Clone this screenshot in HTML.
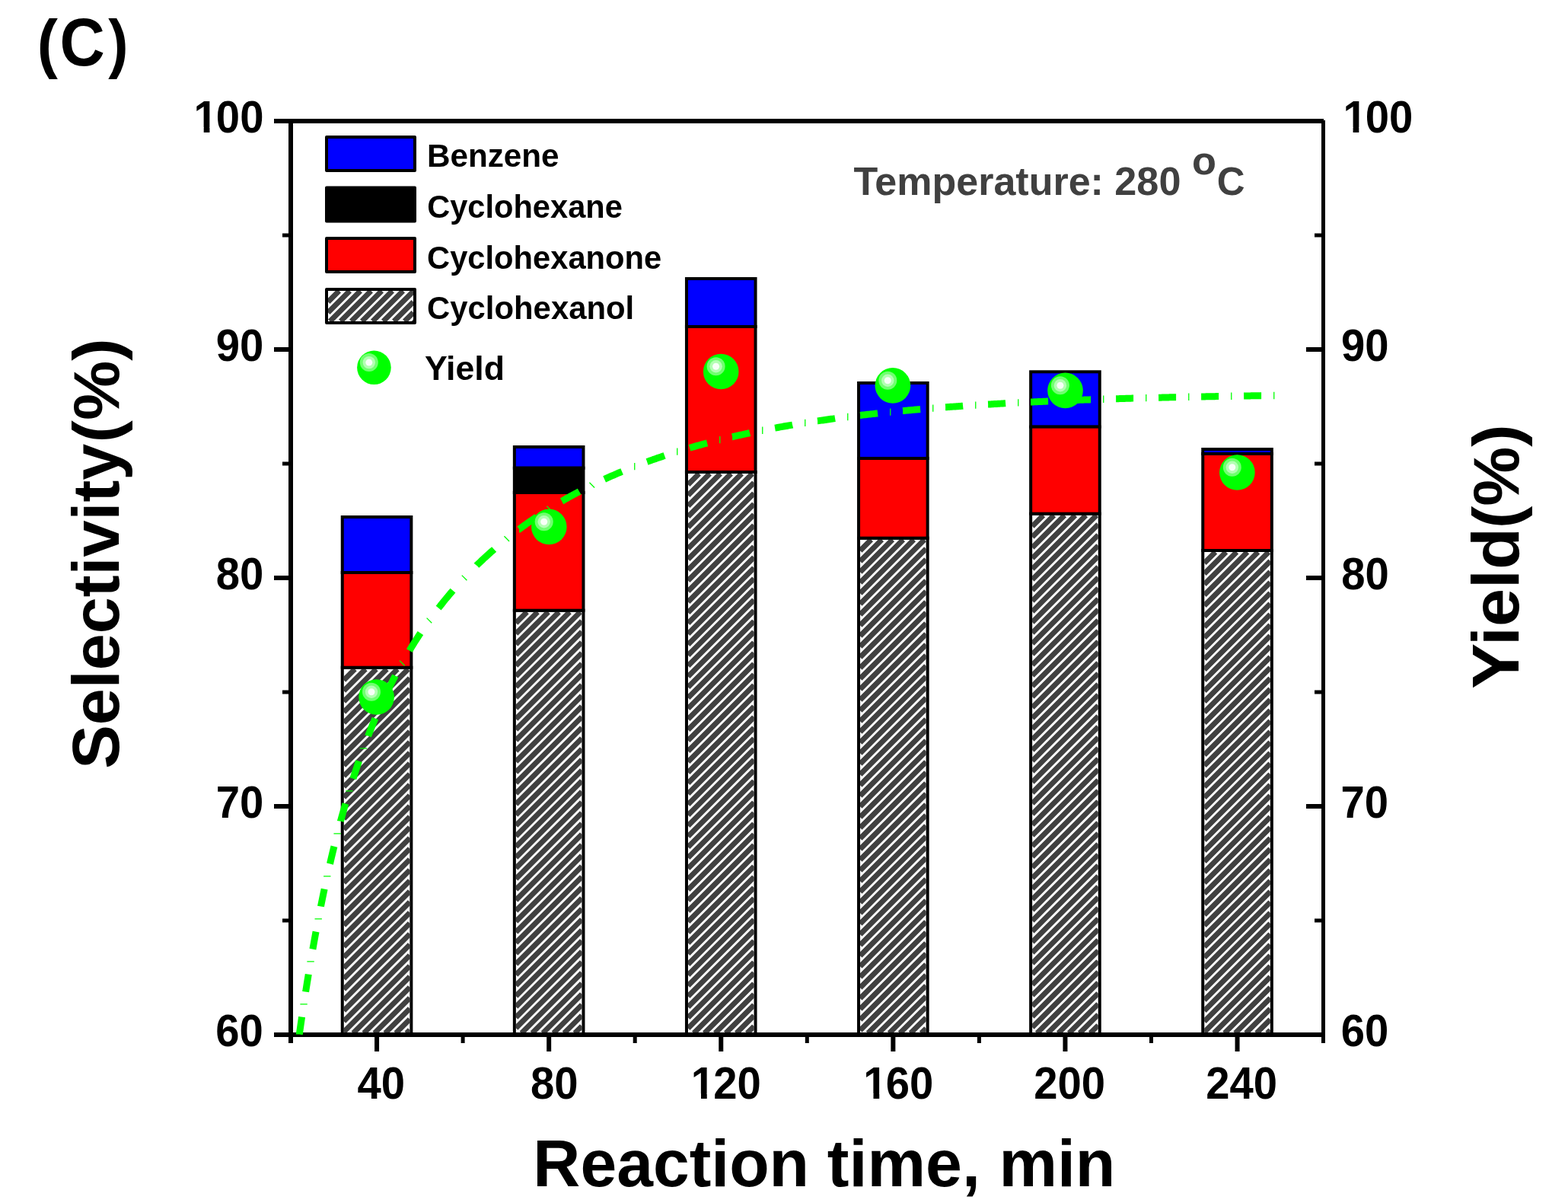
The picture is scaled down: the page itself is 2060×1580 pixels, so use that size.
<!DOCTYPE html>
<html><head><meta charset="utf-8"><title>Selectivity and yield vs reaction time</title><style>html,body{margin:0;padding:0;background:#fff;overflow:hidden;}svg{display:block;}</style></head>
<body><svg width="2060" height="1580" viewBox="0 0 2060 1580">
<rect width="100%" height="100%" fill="#fff"/>
<defs><clipPath id="plot"><rect x="382" y="159" width="1356.5" height="1200"/></clipPath></defs>
<clipPath id="h0"><rect x="451.75" y="878.70" width="86.60" height="478.30"/></clipPath><g clip-path="url(#h0)"><path d="M451.75 893.20L466.25 878.70M451.75 907.20L480.25 878.70M451.75 921.20L494.25 878.70M451.75 935.20L508.25 878.70M451.75 949.20L522.25 878.70M451.75 963.20L536.25 878.70M451.75 977.20L538.35 890.60M451.75 991.20L538.35 904.60M451.75 1005.20L538.35 918.60M451.75 1019.20L538.35 932.60M451.75 1033.20L538.35 946.60M451.75 1047.20L538.35 960.60M451.75 1061.20L538.35 974.60M451.75 1075.20L538.35 988.60M451.75 1089.20L538.35 1002.60M451.75 1103.20L538.35 1016.60M451.75 1117.20L538.35 1030.60M451.75 1131.20L538.35 1044.60M451.75 1145.20L538.35 1058.60M451.75 1159.20L538.35 1072.60M451.75 1173.20L538.35 1086.60M451.75 1187.20L538.35 1100.60M451.75 1201.20L538.35 1114.60M451.75 1215.20L538.35 1128.60M451.75 1229.20L538.35 1142.60M451.75 1243.20L538.35 1156.60M451.75 1257.20L538.35 1170.60M451.75 1271.20L538.35 1184.60M451.75 1285.20L538.35 1198.60M451.75 1299.20L538.35 1212.60M451.75 1313.20L538.35 1226.60M451.75 1327.20L538.35 1240.60M451.75 1341.20L538.35 1254.60M451.75 1355.20L538.35 1268.60M463.95 1357.00L538.35 1282.60M477.95 1357.00L538.35 1296.60M491.95 1357.00L538.35 1310.60M505.95 1357.00L538.35 1324.60M519.95 1357.00L538.35 1338.60M533.95 1357.00L538.35 1352.60M547.95 1357.00L538.35 1366.60" stroke="#404040" stroke-width="7.0" stroke-linecap="butt" fill="none"/></g>
<rect x="449.75" y="876.70" width="90.60" height="482.30" fill="none" stroke="#000" stroke-width="4"/>
<rect x="449.75" y="679.00" width="90.60" height="73.00" fill="#0000ff" stroke="#000" stroke-width="4"/>
<rect x="449.75" y="752.00" width="90.60" height="124.70" fill="#ff0000" stroke="#000" stroke-width="4"/>
<clipPath id="h1"><rect x="677.85" y="803.70" width="86.60" height="553.30"/></clipPath><g clip-path="url(#h1)"><path d="M677.85 818.20L692.35 803.70M677.85 832.20L706.35 803.70M677.85 846.20L720.35 803.70M677.85 860.20L734.35 803.70M677.85 874.20L748.35 803.70M677.85 888.20L762.35 803.70M677.85 902.20L764.45 815.60M677.85 916.20L764.45 829.60M677.85 930.20L764.45 843.60M677.85 944.20L764.45 857.60M677.85 958.20L764.45 871.60M677.85 972.20L764.45 885.60M677.85 986.20L764.45 899.60M677.85 1000.20L764.45 913.60M677.85 1014.20L764.45 927.60M677.85 1028.20L764.45 941.60M677.85 1042.20L764.45 955.60M677.85 1056.20L764.45 969.60M677.85 1070.20L764.45 983.60M677.85 1084.20L764.45 997.60M677.85 1098.20L764.45 1011.60M677.85 1112.20L764.45 1025.60M677.85 1126.20L764.45 1039.60M677.85 1140.20L764.45 1053.60M677.85 1154.20L764.45 1067.60M677.85 1168.20L764.45 1081.60M677.85 1182.20L764.45 1095.60M677.85 1196.20L764.45 1109.60M677.85 1210.20L764.45 1123.60M677.85 1224.20L764.45 1137.60M677.85 1238.20L764.45 1151.60M677.85 1252.20L764.45 1165.60M677.85 1266.20L764.45 1179.60M677.85 1280.20L764.45 1193.60M677.85 1294.20L764.45 1207.60M677.85 1308.20L764.45 1221.60M677.85 1322.20L764.45 1235.60M677.85 1336.20L764.45 1249.60M677.85 1350.20L764.45 1263.60M685.05 1357.00L764.45 1277.60M699.05 1357.00L764.45 1291.60M713.05 1357.00L764.45 1305.60M727.05 1357.00L764.45 1319.60M741.05 1357.00L764.45 1333.60M755.05 1357.00L764.45 1347.60M769.05 1357.00L764.45 1361.60" stroke="#404040" stroke-width="7.0" stroke-linecap="butt" fill="none"/></g>
<rect x="675.85" y="801.70" width="90.60" height="557.30" fill="none" stroke="#000" stroke-width="4"/>
<rect x="675.85" y="587.00" width="90.60" height="27.70" fill="#0000ff" stroke="#000" stroke-width="4"/>
<rect x="675.85" y="614.70" width="90.60" height="32.30" fill="#000000" stroke="#000" stroke-width="4"/>
<rect x="675.85" y="647.00" width="90.60" height="154.70" fill="#ff0000" stroke="#000" stroke-width="4"/>
<clipPath id="h2"><rect x="903.95" y="622.00" width="86.60" height="735.00"/></clipPath><g clip-path="url(#h2)"><path d="M903.95 636.50L918.45 622.00M903.95 650.50L932.45 622.00M903.95 664.50L946.45 622.00M903.95 678.50L960.45 622.00M903.95 692.50L974.45 622.00M903.95 706.50L988.45 622.00M903.95 720.50L990.55 633.90M903.95 734.50L990.55 647.90M903.95 748.50L990.55 661.90M903.95 762.50L990.55 675.90M903.95 776.50L990.55 689.90M903.95 790.50L990.55 703.90M903.95 804.50L990.55 717.90M903.95 818.50L990.55 731.90M903.95 832.50L990.55 745.90M903.95 846.50L990.55 759.90M903.95 860.50L990.55 773.90M903.95 874.50L990.55 787.90M903.95 888.50L990.55 801.90M903.95 902.50L990.55 815.90M903.95 916.50L990.55 829.90M903.95 930.50L990.55 843.90M903.95 944.50L990.55 857.90M903.95 958.50L990.55 871.90M903.95 972.50L990.55 885.90M903.95 986.50L990.55 899.90M903.95 1000.50L990.55 913.90M903.95 1014.50L990.55 927.90M903.95 1028.50L990.55 941.90M903.95 1042.50L990.55 955.90M903.95 1056.50L990.55 969.90M903.95 1070.50L990.55 983.90M903.95 1084.50L990.55 997.90M903.95 1098.50L990.55 1011.90M903.95 1112.50L990.55 1025.90M903.95 1126.50L990.55 1039.90M903.95 1140.50L990.55 1053.90M903.95 1154.50L990.55 1067.90M903.95 1168.50L990.55 1081.90M903.95 1182.50L990.55 1095.90M903.95 1196.50L990.55 1109.90M903.95 1210.50L990.55 1123.90M903.95 1224.50L990.55 1137.90M903.95 1238.50L990.55 1151.90M903.95 1252.50L990.55 1165.90M903.95 1266.50L990.55 1179.90M903.95 1280.50L990.55 1193.90M903.95 1294.50L990.55 1207.90M903.95 1308.50L990.55 1221.90M903.95 1322.50L990.55 1235.90M903.95 1336.50L990.55 1249.90M903.95 1350.50L990.55 1263.90M911.45 1357.00L990.55 1277.90M925.45 1357.00L990.55 1291.90M939.45 1357.00L990.55 1305.90M953.45 1357.00L990.55 1319.90M967.45 1357.00L990.55 1333.90M981.45 1357.00L990.55 1347.90M995.45 1357.00L990.55 1361.90" stroke="#404040" stroke-width="7.0" stroke-linecap="butt" fill="none"/></g>
<rect x="901.95" y="620.00" width="90.60" height="739.00" fill="none" stroke="#000" stroke-width="4"/>
<rect x="901.95" y="366.00" width="90.60" height="63.00" fill="#0000ff" stroke="#000" stroke-width="4"/>
<rect x="901.95" y="429.00" width="90.60" height="191.00" fill="#ff0000" stroke="#000" stroke-width="4"/>
<clipPath id="h3"><rect x="1130.05" y="708.70" width="86.60" height="648.30"/></clipPath><g clip-path="url(#h3)"><path d="M1130.05 723.20L1144.55 708.70M1130.05 737.20L1158.55 708.70M1130.05 751.20L1172.55 708.70M1130.05 765.20L1186.55 708.70M1130.05 779.20L1200.55 708.70M1130.05 793.20L1214.55 708.70M1130.05 807.20L1216.65 720.60M1130.05 821.20L1216.65 734.60M1130.05 835.20L1216.65 748.60M1130.05 849.20L1216.65 762.60M1130.05 863.20L1216.65 776.60M1130.05 877.20L1216.65 790.60M1130.05 891.20L1216.65 804.60M1130.05 905.20L1216.65 818.60M1130.05 919.20L1216.65 832.60M1130.05 933.20L1216.65 846.60M1130.05 947.20L1216.65 860.60M1130.05 961.20L1216.65 874.60M1130.05 975.20L1216.65 888.60M1130.05 989.20L1216.65 902.60M1130.05 1003.20L1216.65 916.60M1130.05 1017.20L1216.65 930.60M1130.05 1031.20L1216.65 944.60M1130.05 1045.20L1216.65 958.60M1130.05 1059.20L1216.65 972.60M1130.05 1073.20L1216.65 986.60M1130.05 1087.20L1216.65 1000.60M1130.05 1101.20L1216.65 1014.60M1130.05 1115.20L1216.65 1028.60M1130.05 1129.20L1216.65 1042.60M1130.05 1143.20L1216.65 1056.60M1130.05 1157.20L1216.65 1070.60M1130.05 1171.20L1216.65 1084.60M1130.05 1185.20L1216.65 1098.60M1130.05 1199.20L1216.65 1112.60M1130.05 1213.20L1216.65 1126.60M1130.05 1227.20L1216.65 1140.60M1130.05 1241.20L1216.65 1154.60M1130.05 1255.20L1216.65 1168.60M1130.05 1269.20L1216.65 1182.60M1130.05 1283.20L1216.65 1196.60M1130.05 1297.20L1216.65 1210.60M1130.05 1311.20L1216.65 1224.60M1130.05 1325.20L1216.65 1238.60M1130.05 1339.20L1216.65 1252.60M1130.05 1353.20L1216.65 1266.60M1140.25 1357.00L1216.65 1280.60M1154.25 1357.00L1216.65 1294.60M1168.25 1357.00L1216.65 1308.60M1182.25 1357.00L1216.65 1322.60M1196.25 1357.00L1216.65 1336.60M1210.25 1357.00L1216.65 1350.60M1224.25 1357.00L1216.65 1364.60" stroke="#404040" stroke-width="7.0" stroke-linecap="butt" fill="none"/></g>
<rect x="1128.05" y="706.70" width="90.60" height="652.30" fill="none" stroke="#000" stroke-width="4"/>
<rect x="1128.05" y="503.00" width="90.60" height="99.00" fill="#0000ff" stroke="#000" stroke-width="4"/>
<rect x="1128.05" y="602.00" width="90.60" height="104.70" fill="#ff0000" stroke="#000" stroke-width="4"/>
<clipPath id="h4"><rect x="1356.15" y="676.70" width="86.60" height="680.30"/></clipPath><g clip-path="url(#h4)"><path d="M1356.15 691.20L1370.65 676.70M1356.15 705.20L1384.65 676.70M1356.15 719.20L1398.65 676.70M1356.15 733.20L1412.65 676.70M1356.15 747.20L1426.65 676.70M1356.15 761.20L1440.65 676.70M1356.15 775.20L1442.75 688.60M1356.15 789.20L1442.75 702.60M1356.15 803.20L1442.75 716.60M1356.15 817.20L1442.75 730.60M1356.15 831.20L1442.75 744.60M1356.15 845.20L1442.75 758.60M1356.15 859.20L1442.75 772.60M1356.15 873.20L1442.75 786.60M1356.15 887.20L1442.75 800.60M1356.15 901.20L1442.75 814.60M1356.15 915.20L1442.75 828.60M1356.15 929.20L1442.75 842.60M1356.15 943.20L1442.75 856.60M1356.15 957.20L1442.75 870.60M1356.15 971.20L1442.75 884.60M1356.15 985.20L1442.75 898.60M1356.15 999.20L1442.75 912.60M1356.15 1013.20L1442.75 926.60M1356.15 1027.20L1442.75 940.60M1356.15 1041.20L1442.75 954.60M1356.15 1055.20L1442.75 968.60M1356.15 1069.20L1442.75 982.60M1356.15 1083.20L1442.75 996.60M1356.15 1097.20L1442.75 1010.60M1356.15 1111.20L1442.75 1024.60M1356.15 1125.20L1442.75 1038.60M1356.15 1139.20L1442.75 1052.60M1356.15 1153.20L1442.75 1066.60M1356.15 1167.20L1442.75 1080.60M1356.15 1181.20L1442.75 1094.60M1356.15 1195.20L1442.75 1108.60M1356.15 1209.20L1442.75 1122.60M1356.15 1223.20L1442.75 1136.60M1356.15 1237.20L1442.75 1150.60M1356.15 1251.20L1442.75 1164.60M1356.15 1265.20L1442.75 1178.60M1356.15 1279.20L1442.75 1192.60M1356.15 1293.20L1442.75 1206.60M1356.15 1307.20L1442.75 1220.60M1356.15 1321.20L1442.75 1234.60M1356.15 1335.20L1442.75 1248.60M1356.15 1349.20L1442.75 1262.60M1362.35 1357.00L1442.75 1276.60M1376.35 1357.00L1442.75 1290.60M1390.35 1357.00L1442.75 1304.60M1404.35 1357.00L1442.75 1318.60M1418.35 1357.00L1442.75 1332.60M1432.35 1357.00L1442.75 1346.60M1446.35 1357.00L1442.75 1360.60" stroke="#404040" stroke-width="7.0" stroke-linecap="butt" fill="none"/></g>
<rect x="1354.15" y="674.70" width="90.60" height="684.30" fill="none" stroke="#000" stroke-width="4"/>
<rect x="1354.15" y="488.30" width="90.60" height="72.30" fill="#0000ff" stroke="#000" stroke-width="4"/>
<rect x="1354.15" y="560.60" width="90.60" height="114.10" fill="#ff0000" stroke="#000" stroke-width="4"/>
<clipPath id="h5"><rect x="1582.25" y="725.00" width="86.60" height="632.00"/></clipPath><g clip-path="url(#h5)"><path d="M1582.25 739.50L1596.75 725.00M1582.25 753.50L1610.75 725.00M1582.25 767.50L1624.75 725.00M1582.25 781.50L1638.75 725.00M1582.25 795.50L1652.75 725.00M1582.25 809.50L1666.75 725.00M1582.25 823.50L1668.85 736.90M1582.25 837.50L1668.85 750.90M1582.25 851.50L1668.85 764.90M1582.25 865.50L1668.85 778.90M1582.25 879.50L1668.85 792.90M1582.25 893.50L1668.85 806.90M1582.25 907.50L1668.85 820.90M1582.25 921.50L1668.85 834.90M1582.25 935.50L1668.85 848.90M1582.25 949.50L1668.85 862.90M1582.25 963.50L1668.85 876.90M1582.25 977.50L1668.85 890.90M1582.25 991.50L1668.85 904.90M1582.25 1005.50L1668.85 918.90M1582.25 1019.50L1668.85 932.90M1582.25 1033.50L1668.85 946.90M1582.25 1047.50L1668.85 960.90M1582.25 1061.50L1668.85 974.90M1582.25 1075.50L1668.85 988.90M1582.25 1089.50L1668.85 1002.90M1582.25 1103.50L1668.85 1016.90M1582.25 1117.50L1668.85 1030.90M1582.25 1131.50L1668.85 1044.90M1582.25 1145.50L1668.85 1058.90M1582.25 1159.50L1668.85 1072.90M1582.25 1173.50L1668.85 1086.90M1582.25 1187.50L1668.85 1100.90M1582.25 1201.50L1668.85 1114.90M1582.25 1215.50L1668.85 1128.90M1582.25 1229.50L1668.85 1142.90M1582.25 1243.50L1668.85 1156.90M1582.25 1257.50L1668.85 1170.90M1582.25 1271.50L1668.85 1184.90M1582.25 1285.50L1668.85 1198.90M1582.25 1299.50L1668.85 1212.90M1582.25 1313.50L1668.85 1226.90M1582.25 1327.50L1668.85 1240.90M1582.25 1341.50L1668.85 1254.90M1582.25 1355.50L1668.85 1268.90M1594.75 1357.00L1668.85 1282.90M1608.75 1357.00L1668.85 1296.90M1622.75 1357.00L1668.85 1310.90M1636.75 1357.00L1668.85 1324.90M1650.75 1357.00L1668.85 1338.90M1664.75 1357.00L1668.85 1352.90M1678.75 1357.00L1668.85 1366.90" stroke="#404040" stroke-width="7.0" stroke-linecap="butt" fill="none"/></g>
<rect x="1580.25" y="723.00" width="90.60" height="636.00" fill="none" stroke="#000" stroke-width="4"/>
<rect x="1580.25" y="590.00" width="90.60" height="6.00" fill="#0000ff" stroke="#000" stroke-width="4"/>
<rect x="1580.25" y="596.00" width="90.60" height="127.00" fill="#ff0000" stroke="#000" stroke-width="4"/>
<g fill="#000">
<rect x="360" y="156" width="1379" height="6"/>
<rect x="360" y="1356" width="1381" height="6"/>
<rect x="379" y="156" width="6" height="1214"/>
<rect x="1736" y="158" width="5" height="1212"/>
<rect x="371" y="1206.5" width="9" height="5"/>
<rect x="1727" y="1206.5" width="10" height="5"/>
<rect x="360" y="1056" width="20" height="6"/>
<rect x="1716" y="1056" width="21" height="6"/>
<rect x="371" y="906.5" width="9" height="5"/>
<rect x="1727" y="906.5" width="10" height="5"/>
<rect x="360" y="756" width="20" height="6"/>
<rect x="1716" y="756" width="21" height="6"/>
<rect x="371" y="606.5" width="9" height="5"/>
<rect x="1727" y="606.5" width="10" height="5"/>
<rect x="360" y="456" width="20" height="6"/>
<rect x="1716" y="456" width="21" height="6"/>
<rect x="371" y="306.5" width="9" height="5"/>
<rect x="1727" y="306.5" width="10" height="5"/>
<rect x="492.05" y="1361" width="6" height="20"/>
<rect x="605.60" y="1361" width="5" height="9"/>
<rect x="718.15" y="1361" width="6" height="20"/>
<rect x="831.70" y="1361" width="5" height="9"/>
<rect x="944.25" y="1361" width="6" height="20"/>
<rect x="1057.80" y="1361" width="5" height="9"/>
<rect x="1170.35" y="1361" width="6" height="20"/>
<rect x="1283.90" y="1361" width="5" height="9"/>
<rect x="1396.45" y="1361" width="6" height="20"/>
<rect x="1510.00" y="1361" width="5" height="9"/>
<rect x="1622.55" y="1361" width="6" height="20"/>
</g>
<g clip-path="url(#plot)" fill="none" stroke="#00ff00" stroke-linecap="butt"><path stroke-width="9" d="M385.76 1414.60L385.83 1414.09L387.46 1401.44L388.76 1391.60M393.27 1358.60L393.27 1358.56L394.91 1347.09L396.54 1335.87L396.58 1335.60M401.59 1302.60L401.63 1302.34L403.26 1292.04L404.90 1281.96L405.28 1279.60M410.90 1246.60L410.90 1246.60L412.54 1237.44L414.17 1228.46L415.07 1223.60M421.44 1190.60L421.48 1190.36L423.12 1182.30L424.75 1174.40L426.18 1167.60M433.48 1134.60L433.50 1134.53L435.13 1127.53L436.77 1120.65L438.40 1113.90L438.96 1111.60M447.46 1078.60L447.47 1078.53L449.11 1072.53L450.74 1066.64L452.37 1060.85L453.88 1055.60M463.91 1022.60L463.93 1022.54L465.56 1017.49L467.20 1012.52L468.83 1007.62L470.46 1002.81L471.56 999.60M483.64 966.60L483.65 966.56L485.29 962.38L486.92 958.26L488.55 954.20L490.18 950.20L491.82 946.26L492.93 943.60M507.74 910.60L507.75 910.59L509.38 907.20L511.01 903.85L512.65 900.55L514.28 897.29L515.91 894.07L517.55 890.90L519.18 887.76L519.26 887.60M537.81 854.60L537.85 854.53L539.49 851.84L541.12 849.18L542.75 846.55L544.38 843.94L546.02 841.37L547.65 838.83L549.28 836.31L550.92 833.83L552.39 831.60M576.14 798.60L576.19 798.54L577.82 796.44L579.45 794.37L581.09 792.32L582.72 790.29L584.35 788.28L585.98 786.28L587.62 784.31L589.25 782.36L590.88 780.42L592.51 778.50L594.15 776.60L595.01 775.60M626.10 742.67L626.14 742.62L627.78 741.04L629.41 739.47L631.04 737.91L632.67 736.37L634.31 734.84L635.94 733.32L637.57 731.82L639.21 730.32L640.84 728.84L642.47 727.37L644.10 725.91L645.74 724.47L647.37 723.03L649.00 721.61L649.10 721.52M682.10 695.03L682.11 695.03L683.74 693.82L685.37 692.62L687.01 691.43L688.64 690.25L690.27 689.08L691.90 687.92L693.54 686.76L695.17 685.61L696.80 684.48L698.44 683.35L700.07 682.23L701.70 681.11L703.33 680.01L704.97 678.91L705.10 678.82M738.10 658.26L738.14 658.24L739.77 657.29L741.40 656.36L743.04 655.43L744.67 654.51L746.30 653.59L747.94 652.68L749.57 651.78L751.20 650.88L752.83 649.99L754.47 649.10L756.10 648.22L757.73 647.35L759.36 646.48L761.00 645.62L761.10 645.56M794.10 629.37L794.10 629.37L795.74 628.62L797.37 627.88L799.00 627.15L800.63 626.42L802.27 625.69L803.90 624.97L805.53 624.26L807.17 623.55L808.80 622.84L810.43 622.14L812.06 621.44L813.70 620.75L815.33 620.06L816.96 619.38L817.10 619.32M850.10 606.47L850.13 606.46L851.77 605.87L853.40 605.28L855.03 604.70L856.67 604.12L858.30 603.54L859.93 602.97L861.56 602.40L863.20 601.83L864.83 601.27L866.46 600.71L868.09 600.16L869.73 599.61L871.36 599.06L872.99 598.52L873.10 598.48M906.10 588.25L906.16 588.23L907.80 587.76L909.43 587.29L911.06 586.83L912.70 586.37L914.33 585.91L915.96 585.45L917.59 585.00L919.23 584.55L920.86 584.10L922.49 583.65L924.12 583.21L925.76 582.77L927.39 582.34L929.02 581.91L929.10 581.89M962.10 573.72L962.13 573.72L963.76 573.34L965.39 572.97L967.03 572.59L968.66 572.23L970.29 571.86L971.93 571.50L973.56 571.13L975.19 570.77L976.82 570.42L978.46 570.06L980.09 569.71L981.72 569.36L983.35 569.01L984.99 568.67L985.10 568.64M1018.10 562.13L1018.16 562.12L1019.79 561.82L1021.43 561.52L1023.06 561.22L1024.69 560.93L1026.32 560.63L1027.96 560.34L1029.59 560.05L1031.22 559.77L1032.85 559.48L1034.49 559.20L1036.12 558.92L1037.75 558.64L1039.38 558.36L1041.02 558.09L1041.10 558.07M1074.10 552.87L1074.12 552.87L1075.76 552.63L1077.39 552.39L1079.02 552.15L1080.66 551.92L1082.29 551.68L1083.92 551.45L1085.55 551.22L1087.19 550.99L1088.82 550.76L1090.45 550.54L1092.08 550.31L1093.72 550.09L1095.35 549.87L1096.98 549.65L1097.10 549.63M1130.10 545.47L1130.16 545.47L1131.79 545.28L1133.42 545.09L1135.05 544.90L1136.69 544.71L1138.32 544.52L1139.95 544.34L1141.58 544.15L1143.22 543.97L1144.85 543.79L1146.48 543.61L1148.11 543.43L1149.75 543.25L1151.38 543.07L1153.01 542.90L1153.10 542.89M1186.10 539.57L1186.12 539.57L1187.75 539.41L1189.39 539.26L1191.02 539.11L1192.65 538.96L1194.28 538.81L1195.92 538.66L1197.55 538.52L1199.18 538.37L1200.81 538.23L1202.45 538.08L1204.08 537.94L1205.71 537.80L1207.34 537.65L1208.98 537.51L1209.10 537.50M1242.10 534.85L1242.15 534.85L1243.78 534.73L1245.42 534.60L1247.05 534.48L1248.68 534.36L1250.31 534.24L1251.95 534.13L1253.58 534.01L1255.21 533.89L1256.84 533.78L1258.48 533.66L1260.11 533.55L1261.74 533.43L1263.37 533.32L1265.01 533.21L1265.10 533.20M1298.10 531.08L1298.12 531.08L1299.75 530.98L1301.38 530.89L1303.01 530.79L1304.65 530.70L1306.28 530.60L1307.91 530.51L1309.54 530.41L1311.18 530.32L1312.81 530.23L1314.44 530.13L1316.07 530.04L1317.71 529.95L1319.34 529.86L1320.97 529.77L1321.10 529.76M1354.10 528.07L1354.15 528.07L1355.78 527.99L1357.41 527.92L1359.04 527.84L1360.68 527.76L1362.31 527.69L1363.94 527.61L1365.57 527.54L1367.21 527.46L1368.84 527.39L1370.47 527.31L1372.10 527.24L1373.74 527.17L1375.37 527.10L1377.00 527.02L1377.10 527.02M1410.10 525.67L1410.11 525.67L1411.74 525.61L1413.38 525.54L1415.01 525.48L1416.64 525.42L1418.27 525.36L1419.91 525.30L1421.54 525.24L1423.17 525.18L1424.80 525.12L1426.44 525.06L1428.07 525.01L1429.70 524.95L1431.33 524.89L1432.97 524.83L1433.10 524.83M1466.10 523.75L1466.14 523.75L1467.77 523.70L1469.41 523.65L1471.04 523.60L1472.67 523.55L1474.30 523.50L1475.94 523.45L1477.57 523.41L1479.20 523.36L1480.83 523.31L1482.47 523.26L1484.10 523.22L1485.73 523.17L1487.36 523.12L1489.00 523.08L1489.10 523.08M1522.10 522.21L1522.11 522.21L1523.74 522.17L1525.37 522.13L1527.00 522.10L1528.64 522.06L1530.27 522.02L1531.90 521.98L1533.53 521.94L1535.17 521.90L1536.80 521.87L1538.43 521.83L1540.06 521.79L1541.70 521.75L1543.33 521.72L1544.96 521.68L1545.10 521.68M1578.10 520.99L1578.14 520.99L1579.77 520.96L1581.40 520.92L1583.03 520.89L1584.67 520.86L1586.30 520.83L1587.93 520.80L1589.56 520.77L1591.20 520.74L1592.83 520.71L1594.46 520.68L1596.09 520.65L1597.73 520.62L1599.36 520.59L1600.99 520.56L1601.10 520.56M1634.10 520.01L1634.10 520.01L1635.73 519.98L1637.37 519.96L1639.00 519.93L1640.63 519.91L1642.26 519.88L1643.90 519.86L1645.53 519.84L1647.16 519.81L1648.79 519.79L1650.43 519.76L1652.06 519.74L1653.69 519.72L1655.32 519.69L1656.96 519.67L1657.10 519.67"/><path stroke-width="1.3" d="M386.30 1374.95L395.70 1374.95M394.37 1318.95L403.77 1318.95M403.37 1262.95L412.77 1262.95M413.52 1206.95L422.92 1206.95M425.09 1150.95L434.49 1150.95M438.45 1094.95L447.85 1094.95M454.11 1038.95L463.51 1038.95M472.78 982.95L482.18 982.95M496.85 923.63L503.49 930.27M524.98 867.63L531.62 874.27M560.60 811.63L567.24 818.27M606.75 755.63L613.40 762.27M662.43 704.32L669.07 710.97M718.43 664.75L725.07 671.40M774.43 633.79L781.07 640.44M833.75 607.92L833.75 617.32M889.75 588.45L889.75 597.85M945.75 572.93L945.75 582.33M1001.75 560.55L1001.75 569.95M1057.75 550.66L1057.75 560.06M1113.75 542.76L1113.75 552.16M1169.75 536.46L1169.75 545.86M1225.75 531.42L1225.75 540.82M1281.75 527.40L1281.75 536.80M1337.75 524.18L1337.75 533.58M1393.75 521.62L1393.75 531.02M1449.75 519.57L1449.75 528.97M1505.75 517.93L1505.75 527.33M1561.75 516.62L1561.75 526.02M1617.75 515.57L1617.75 524.97M1673.75 514.74L1673.75 524.14"/></g>
<circle cx="494.6" cy="915.5" r="23.3" fill="#00ff00"/><circle cx="488.0" cy="908.8" r="12" fill="#70ff70"/><circle cx="488.0" cy="908.8" r="8.2" fill="#b3ffb3"/><circle cx="488.0" cy="908.8" r="4.5" fill="#f8fff8"/>
<circle cx="721.3" cy="691.9" r="23.3" fill="#00ff00"/><circle cx="714.7" cy="685.2" r="12" fill="#70ff70"/><circle cx="714.7" cy="685.2" r="8.2" fill="#b3ffb3"/><circle cx="714.7" cy="685.2" r="4.5" fill="#f8fff8"/>
<circle cx="947.2" cy="488.0" r="23.3" fill="#00ff00"/><circle cx="940.6" cy="481.3" r="12" fill="#70ff70"/><circle cx="940.6" cy="481.3" r="8.2" fill="#b3ffb3"/><circle cx="940.6" cy="481.3" r="4.5" fill="#f8fff8"/>
<circle cx="1172.9" cy="506.4" r="23.3" fill="#00ff00"/><circle cx="1166.3" cy="499.7" r="12" fill="#70ff70"/><circle cx="1166.3" cy="499.7" r="8.2" fill="#b3ffb3"/><circle cx="1166.3" cy="499.7" r="4.5" fill="#f8fff8"/>
<circle cx="1399.5" cy="512.9" r="23.3" fill="#00ff00"/><circle cx="1392.9" cy="506.2" r="12" fill="#70ff70"/><circle cx="1392.9" cy="506.2" r="8.2" fill="#b3ffb3"/><circle cx="1392.9" cy="506.2" r="4.5" fill="#f8fff8"/>
<circle cx="1625.4" cy="620.5" r="23.3" fill="#00ff00"/><circle cx="1618.8" cy="613.8" r="12" fill="#70ff70"/><circle cx="1618.8" cy="613.8" r="8.2" fill="#b3ffb3"/><circle cx="1618.8" cy="613.8" r="4.5" fill="#f8fff8"/>
<g stroke="#000" stroke-width="4" stroke-linejoin="round">
<rect x="429" y="180" width="116" height="44" fill="#0000ff"/>
<rect x="429" y="246.5" width="116" height="44" fill="#000"/>
<rect x="429" y="313" width="116" height="44" fill="#ff0000"/>
</g>
<clipPath id="hl"><rect x="431.00" y="382.00" width="112.00" height="40.00"/></clipPath><g clip-path="url(#hl)"><path d="M431.00 396.50L445.50 382.00M431.00 410.50L459.50 382.00M433.50 422.00L473.50 382.00M447.50 422.00L487.50 382.00M461.50 422.00L501.50 382.00M475.50 422.00L515.50 382.00M489.50 422.00L529.50 382.00M503.50 422.00L543.00 382.50M517.50 422.00L543.00 396.50M531.50 422.00L543.00 410.50M545.50 422.00L543.00 424.50" stroke="#404040" stroke-width="7.0" stroke-linecap="butt" fill="none"/></g>
<rect x="429" y="380" width="116" height="44" fill="none" stroke="#000" stroke-width="4" stroke-linejoin="round"/>
<circle cx="491.4" cy="482.8" r="22.3" fill="#00ff00"/><circle cx="484.8" cy="476.1" r="12" fill="#70ff70"/><circle cx="484.8" cy="476.1" r="8.2" fill="#b3ffb3"/><circle cx="484.8" cy="476.1" r="4.5" fill="#f8fff8"/>
<g font-family="'Liberation Sans', Arial, sans-serif" font-weight="bold">
<text transform="matrix(0.9482 0 0 1.0000 48.81 86.20)" font-size="86" fill="#000">(</text>
<text transform="matrix(0.9542 0 0 1.0360 78.41 86.30)" font-size="86" fill="#000">C</text>
<text transform="matrix(0.9188 0 0 1.0000 142.24 86.20)" font-size="86" fill="#000">)</text>
<text transform="matrix(1.0053 0 0 1.0200 560.97 218.90)" font-size="42" fill="#000">Benzene</text>
<text transform="matrix(0.9908 0 0 1.0000 561.17 285.90)" font-size="42" fill="#000">Cyclohexane</text>
<text transform="matrix(0.9928 0 0 1.0000 561.07 352.70)" font-size="42" fill="#000">Cyclohexanone</text>
<text transform="matrix(0.9968 0 0 1.0000 561.06 419.00)" font-size="42" fill="#000">Cyclohexanol</text>
<text transform="matrix(1.0147 0 0 1.0000 557.94 498.80)" font-size="44" fill="#000">Yield</text>
<text transform="matrix(1.0001 0 0 1.0000 1121.42 255.80)" font-size="52" fill="#404040">Temperature:</text>
<text transform="matrix(1.0049 0 0 1.0000 1464.30 255.80)" font-size="52" fill="#404040">280</text>
<text transform="matrix(1.0064 0 0 1.0000 1566.02 229.40)" font-size="52" fill="#404040">o</text>
<text transform="matrix(0.9800 0 0 1.0000 1598.87 255.90)" font-size="52" fill="#404040">C</text>
<text transform="matrix(0.9989 0 0 1.0200 700.36 1558.20)" font-size="86" fill="#000">Reaction</text>
<text transform="matrix(1.0015 0 0 1.0200 1086.84 1558.20)" font-size="86" fill="#000">time,</text>
<text transform="matrix(1.0012 0 0 1.0200 1312.38 1558.20)" font-size="86" fill="#000">min</text>
<text transform="matrix(0 -1.0036 1.0200 0 155.90 1009.74)" font-size="86" fill="#000">Selectivity</text>
<text transform="matrix(0 -1.0238 1.0000 0 155.90 581.42)" font-size="86" fill="#000">(%)</text>
<text transform="matrix(0 -1.0458 1.0200 0 1995.10 904.75)" font-size="86" fill="#000">Yield</text>
<text transform="matrix(0 -1.0222 1.0000 0 1995.10 694.11)" font-size="86" fill="#000">(%)</text>
<text transform="matrix(0.9702 0 0 1.0350 283.33 1374.30)" font-size="58" fill="#000">60</text>
<text transform="matrix(0.9702 0 0 1.0350 1761.83 1374.30)" font-size="58" fill="#000">60</text>
<text transform="matrix(0.9702 0 0 1.0350 469.45 1443.20)" font-size="58" fill="#000">40</text>
<text transform="matrix(0.9702 0 0 1.0350 696.96 1443.20)" font-size="58" fill="#000">80</text>
<text transform="matrix(0.9702 0 0 1.0350 907.87 1443.20)" font-size="58" fill="#000" clip-path="url(#one58)">1</text>
<text transform="matrix(0.9702 0 0 1.0350 905.87 1443.20)" x="32.257" font-size="58" fill="#000">20</text>
<text transform="matrix(0.9702 0 0 1.0350 1134.37 1443.20)" font-size="58" fill="#000" clip-path="url(#one58)">1</text>
<text transform="matrix(0.9702 0 0 1.0350 1132.37 1443.20)" x="32.257" font-size="58" fill="#000">60</text>
<text transform="matrix(0.9702 0 0 1.0350 1358.25 1443.20)" font-size="58" fill="#000">200</text>
<text transform="matrix(0.9702 0 0 1.0350 1584.25 1443.20)" font-size="58" fill="#000">240</text>
<text transform="matrix(0.9702 0 0 1.0350 254.57 174.30)" font-size="58" fill="#000" clip-path="url(#one58)">1</text>
<text transform="matrix(0.9702 0 0 1.0350 252.57 174.30)" x="32.257" font-size="58" fill="#000">00</text>
<text transform="matrix(0.9702 0 0 1.0350 1764.47 174.30)" font-size="58" fill="#000" clip-path="url(#one58)">1</text>
<text transform="matrix(0.9702 0 0 1.0350 1762.47 174.30)" x="32.257" font-size="58" fill="#000">00</text>
<text transform="matrix(0.9702 0 0 1.0350 283.75 474.30)" font-size="58" fill="#000">90</text>
<text transform="matrix(0.9702 0 0 1.0350 283.75 774.30)" font-size="58" fill="#000">80</text>
<text transform="matrix(0.9702 0 0 1.0350 283.75 1074.30)" font-size="58" fill="#000">70</text>
<text transform="matrix(0.9702 0 0 1.0350 1762.01 474.30)" font-size="58" fill="#000">90</text>
<text transform="matrix(0.9702 0 0 1.0350 1762.17 774.30)" font-size="58" fill="#000">80</text>
<text transform="matrix(0.9702 0 0 1.0350 1761.57 1074.30)" font-size="58" fill="#000">70</text>
</g>
<clipPath id="one58"><rect x="-50" y="-200" width="200" height="193.281"/><rect x="13.537" y="-20" width="7.958" height="40"/></clipPath>
</svg></body></html>
